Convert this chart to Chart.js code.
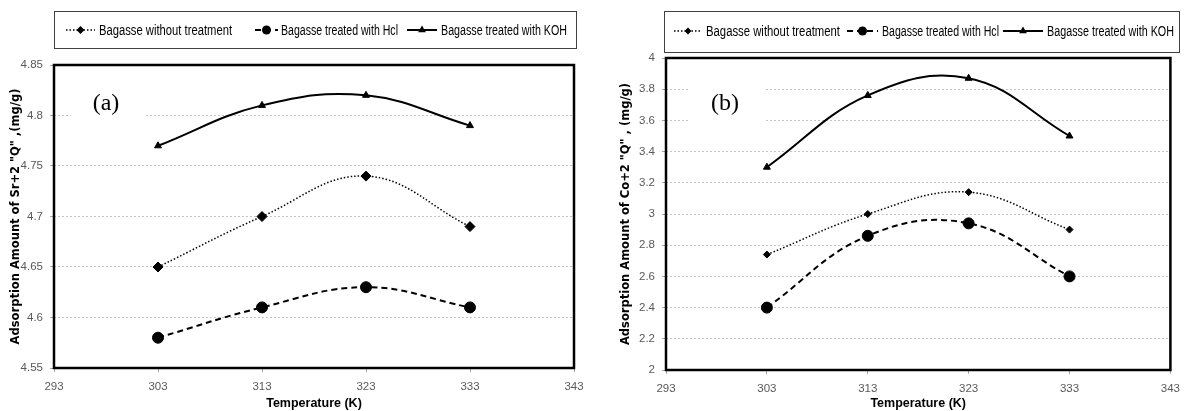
<!DOCTYPE html>
<html>
<head>
<meta charset="utf-8">
<title>Adsorption vs temperature</title>
<script src="https://cdn.jsdelivr.net/npm/chart.js@4.4.0/dist/chart.umd.min.js"></script>
<style>
  html, body { margin: 0; padding: 0; background: #fff; }
  #wrap { position: relative; width: 1188px; height: 411px; }
  .panel { position: absolute; top: 0; width: 594px; height: 411px; }
</style>
</head>
<body>
<div id="wrap">
  <div class="panel" style="left:0"><canvas id="graficoSr" width="594" height="411"></canvas></div>
  <div class="panel" style="left:594px"><canvas id="graficoCo" width="594" height="411"></canvas></div>
</div>
<script>
// datos
const temperaturas = [303, 313, 323, 333];
const nombresSeries = ["Bagasse without treatment", "Bagasse treated with Hcl", "Bagasse treated with KOH"];

// (a) Sr+2
const srSinTratar = [4.65, 4.70, 4.74, 4.69];
const srHcl = [4.58, 4.61, 4.63, 4.61];
const srKoh = [4.77, 4.81, 4.82, 4.79];

// (b) Co+2
const coSinTratar = [2.74, 3.00, 3.14, 2.90];
const coHcl = [2.40, 2.86, 2.94, 2.60];
const coKoh = [3.30, 3.76, 3.87, 3.50];

const ticksX = [293, 303, 313, 323, 333, 343];
const ticksSr = [4.55, 4.6, 4.65, 4.7, 4.75, 4.8, 4.85];
const ticksCo = [2, 2.2, 2.4, 2.6, 2.8, 3, 3.2, 3.4, 3.6, 3.8, 4];

const tituloSr = 'Adsorption Amount of Sr+2 "Q" ,(mg/g)';
const tituloCo = 'Adsorption Amount of Co+2 "Q" , (mg/g)';
const tituloX = "Temperature (K)";

const fuenteAngosta = "'Liberation Sans Narrow', 'Arial Narrow', 'Liberation Sans', sans-serif";

function dibujarMarcador(ctx, estilo, x, y, r) {
  ctx.fillStyle = "#000";
  ctx.beginPath();
  if (estilo === "circle") {
    ctx.arc(x, y, r, 0, Math.PI * 2);
  } else if (estilo === "rectRot") {
    ctx.moveTo(x, y - r);
    ctx.lineTo(x + r, y);
    ctx.lineTo(x, y + r);
    ctx.lineTo(x - r, y);
  } else {
    ctx.moveTo(x, y - r);
    ctx.lineTo(x + 0.866 * r, y + 0.5 * r);
    ctx.lineTo(x - 0.866 * r, y + 0.5 * r);
  }
  ctx.closePath();
  ctx.fill();
}

// leyenda con marco, como en la figura original
const leyendaCaja = {
  id: "leyendaCaja",
  afterDraw(chart, args, opts) {
    const ctx = chart.ctx;
    const [x1, y1, x2, y2] = opts.caja;
    ctx.save();
    ctx.strokeStyle = "#404040";
    ctx.lineWidth = 1;
    ctx.strokeRect(x1 + 0.5, y1 + 0.5, x2 - x1, y2 - y1);
    ctx.font = "14px " + fuenteAngosta;
    ctx.textBaseline = "middle";
    ctx.textAlign = "left";
    chart.data.datasets.forEach((ds, i) => {
      const it = opts.items[i];
      ctx.strokeStyle = "#000";
      ctx.lineWidth = ds.borderWidth;
      ctx.setLineDash(ds.borderDash || []);
      ctx.beginPath();
      ctx.moveTo(it.l1, opts.y);
      ctx.lineTo(it.l2, opts.y);
      ctx.stroke();
      ctx.setLineDash([]);
      dibujarMarcador(ctx, ds.pointStyle, (it.l1 + it.l2) / 2, opts.y, it.r);
      // texto angosto: se comprime al ancho que ocupa en la figura
      const w = ctx.measureText(ds.label).width;
      ctx.save();
      ctx.translate(it.tx, opts.y + 1);
      ctx.scale(it.ancho / w, 1);
      ctx.fillStyle = "#000";
      ctx.fillText(ds.label, 0, 0);
      ctx.restore();
    });
    ctx.restore();
  }
};

// letra del panel (a)/(b) con fondo blanco que tapa la grilla
const etiquetaPanel = {
  id: "etiquetaPanel",
  beforeDatasetsDraw(chart, args, opts) {
    const ctx = chart.ctx;
    ctx.save();
    ctx.fillStyle = "#fff";
    ctx.fillRect(opts.fondo[0], opts.fondo[1], opts.fondo[2], opts.fondo[3]);
    ctx.fillStyle = "#000";
    ctx.font = "24px 'Liberation Serif', 'Times New Roman', serif";
    ctx.textAlign = "center";
    ctx.textBaseline = "middle";
    ctx.fillText(opts.texto, opts.x, opts.y);
    ctx.restore();
  },
  afterDraw(chart) {
    const ctx = chart.ctx;
    const a = chart.chartArea;
    ctx.save();
    ctx.strokeStyle = "#000";
    ctx.lineWidth = 2.5;
    ctx.strokeRect(a.left, a.top, a.right - a.left, a.bottom - a.top);
    ctx.restore();
  }
};

function armarSeries(valores, radios) {
  const estilos = [
    { dash: [1.5, 2], ancho: 1.5, punto: "rectRot" },
    { dash: [6, 4], ancho: 2, punto: "circle" },
    { dash: [], ancho: 2, punto: "triangle" }
  ];
  return valores.map((serie, i) => ({
    label: nombresSeries[i],
    data: serie.map((v, k) => ({ x: temperaturas[k], y: v })),
    borderColor: "#000",
    backgroundColor: "#000",
    borderWidth: estilos[i].ancho,
    borderDash: estilos[i].dash,
    pointStyle: estilos[i].punto,
    pointRadius: radios[i],
    pointBackgroundColor: "#000",
    pointBorderColor: "#000",
    pointBorderWidth: 1,
    tension: 0.4,
    fill: false
  }));
}

function crearGrafico(id, cfg) {
  return new Chart(document.getElementById(id), {
    type: "line",
    data: { datasets: armarSeries(cfg.series, cfg.radios) },
    plugins: [leyendaCaja, etiquetaPanel],
    options: {
      responsive: false,
      animation: false,
      events: [],
      layout: { padding: { top: cfg.arriba, right: cfg.derecha, left: 0, bottom: 0 } },
      plugins: {
        legend: { display: false },
        tooltip: { enabled: false },
        leyendaCaja: cfg.leyenda,
        etiquetaPanel: cfg.etiqueta
      },
      scales: {
        x: {
          type: "linear",
          min: 293,
          max: 343,
          afterBuildTicks: s => { s.ticks = ticksX.map(v => ({ value: v })); },
          afterFit: s => { s.height = cfg.altoX; },
          grid: { drawOnChartArea: false, tickLength: 4, color: "#a6a6a6" },
          border: { display: false },
          ticks: { color: "#595959", padding: 8, font: { family: fuenteAngosta, size: 11.5 }, callback: v => String(v) },
          title: { display: true, text: tituloX, color: "#000", padding: 0, font: { family: fuenteAngosta, size: 12.5, weight: "bold" } }
        },
        y: {
          min: cfg.yMin,
          max: cfg.yMax,
          afterBuildTicks: s => { s.ticks = cfg.ticksY.map(v => ({ value: v })); },
          afterFit: s => { s.width = cfg.anchoY; },
          grid: { color: "#c4c4c4", tickLength: 4, tickColor: "#a6a6a6", tickBorderDash: [], borderDash: [2, 2] },
          border: { display: false, dash: [2, 2] },
          ticks: { color: "#595959", padding: 7, font: { family: fuenteAngosta, size: 11.5 }, callback: v => String(v) },
          title: { display: true, text: cfg.tituloY, color: "#000", padding: { top: cfg.padTitulo }, font: { family: "'DejaVu Sans', Verdana, sans-serif", size: 11.5, weight: "bold" } }
        }
      }
    }
  });
}

crearGrafico("graficoSr", {
  series: [srSinTratar, srHcl, srKoh],
  radios: [5, 5.5, 4],
  yMin: 4.55, yMax: 4.85, ticksY: ticksSr,
  tituloY: tituloSr,
  arriba: 65, derecha: 20, altoX: 43, anchoY: 54, padTitulo: 9,
  leyenda: {
    caja: [54, 11, 576, 48], y: 30,
    items: [
      { l1: 66, l2: 95, r: 4, tx: 99, ancho: 133 },
      { l1: 255, l2: 278, r: 4.5, tx: 281, ancho: 117 },
      { l1: 407, l2: 437, r: 4.5, tx: 441, ancho: 126 }
    ]
  },
  etiqueta: { texto: "(a)", x: 106, y: 104, fondo: [71, 78, 74, 56] }
});

crearGrafico("graficoCo", {
  series: [coSinTratar, coHcl, coKoh],
  radios: [3.5, 5.5, 4],
  yMin: 2, yMax: 4, ticksY: ticksCo,
  tituloY: tituloCo,
  arriba: 58, derecha: 10, altoX: 41, anchoY: 72, padTitulo: 25,
  leyenda: {
    caja: [70, 11, 585, 52], y: 31,
    items: [
      { l1: 80, l2: 108, r: 3.5, tx: 112, ancho: 134 },
      { l1: 253, l2: 284, r: 4.5, tx: 288, ancho: 117 },
      { l1: 409, l2: 449, r: 4.5, tx: 453, ancho: 127 }
    ]
  },
  etiqueta: { texto: "(b)", x: 131, y: 104, fondo: [95, 72, 75, 66] }
});
</script>
</body>
</html>
